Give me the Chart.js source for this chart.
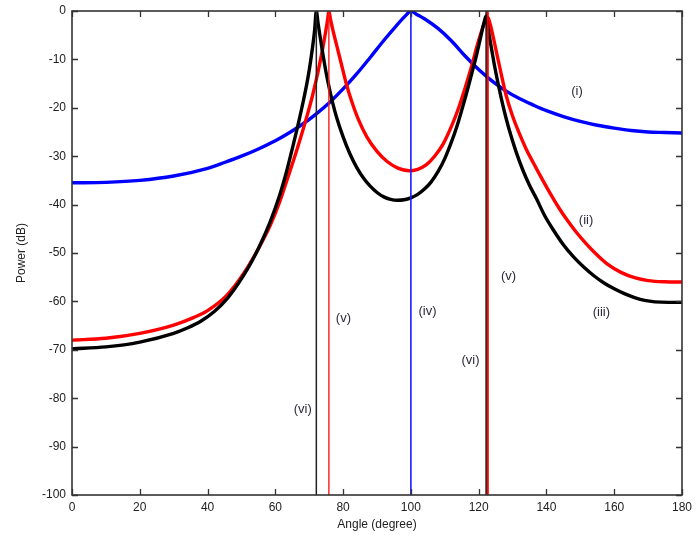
<!DOCTYPE html>
<html>
<head>
<meta charset="utf-8">
<script src="https://cdn.jsdelivr.net/npm/chart.js@4.4.1/dist/chart.umd.min.js"></script>
<style>
  html, body { margin: 0; padding: 0; background: #fff; }
  #wrap { width: 697px; height: 541px; }
</style>
</head>
<body>
<div id="wrap"><canvas id="powerChart" width="697" height="541"></canvas></div>
<script>
// (i) blue spectrum
const blueAngle = [0,10,20,30,40,45,50,55,60,64,68,72,76,80,84,88,92,96,98.5,100,101.5,104,108,112,116,120,124,128,132,136,140,145,150,155,160,165,170,175,180];
const bluePower = [-35.5,-35.4,-35,-34.1,-32.5,-31.3,-30,-28.5,-26.8,-25.2,-23.4,-21.3,-18.9,-16.1,-13,-9.6,-6.1,-2.8,-0.9,0,-0.6,-1.6,-3.6,-6.2,-9.3,-12.1,-14.5,-16.5,-18.1,-19.4,-20.6,-21.8,-22.8,-23.6,-24.2,-24.7,-25,-25.1,-25.2];

// (ii) red spectrum
const redAngle = [0,10,20,30,36,40,45.6,50.4,55.4,58.5,61.3,63.5,65.5,67.5,69.5,71,72.5,73.8,74.8,75.4,75.8,76.3,77,78,79.5,81,82.5,84.5,87,90,93,96,99.5,102,104.5,107,109.5,112,114,116,118,119.5,120.7,121.8,122.7,123.5,124.3,125.1,126.5,128.1,130,132,134,136,138,140.8,143.8,146,148.7,151.5,154.5,158,162,166,170,175,180];
const redPower = [-68,-67.6,-66.6,-64.9,-63.3,-61.9,-58.8,-54.5,-48.6,-44.3,-39.4,-34.8,-30.6,-26.1,-21.3,-17.4,-12.9,-8.4,-4.5,-1.9,0,-1.8,-4,-6.8,-11,-15.2,-18.6,-22.4,-26,-29,-31.1,-32.4,-33,-32.7,-31.8,-30,-27.5,-23.8,-20.2,-15.9,-11.2,-7.3,-4.5,-2.3,-1.3,-3,-5.4,-8,-12.5,-17.4,-21.7,-25.3,-28.5,-31.2,-33.8,-37.3,-40.8,-43.1,-45.6,-47.9,-50.1,-52.3,-54,-55.1,-55.7,-55.95,-56];

// (iii) black spectrum
const blackAngle = [0,10,20,30,34,38,42,45.6,48,50.4,53,55.4,58.5,61.3,63.3,65.2,66.8,68.2,69.3,70.1,71,71.6,72.1,72.6,73.1,74,75,76,77,78,80,82,84,86,88,90,92,94,96,98,100,102,104,106,108,110,112,113.5,115,116.5,118,119.3,120.3,121.2,121.8,122.2,122.7,123.3,124,124.6,125.5,126.5,127.5,129,131,133,135,137,139.5,142,145,148,151,154,157,160,163,166,169,172,176,180];
const blackPower = [-69.8,-69.4,-68.4,-66.6,-65.5,-64.1,-62.1,-59.6,-57.4,-54.9,-51.8,-48.5,-43.5,-38,-33.2,-27.9,-23.2,-18.8,-15,-11.8,-7.4,-3.9,0,-2.5,-4.8,-8.8,-12.8,-16.2,-19.2,-21.8,-26,-29.5,-32.3,-34.5,-36.2,-37.5,-38.4,-38.9,-39.1,-39,-38.6,-37.9,-36.8,-35.3,-33.2,-30.5,-27,-24,-20.5,-16.8,-12.8,-9.3,-6.3,-3.5,-1.8,-1,-3.2,-5.8,-8.6,-11,-14.2,-17.5,-20.5,-24.5,-29,-32.8,-36,-38.7,-42.3,-45.2,-48.3,-50.8,-52.9,-54.7,-56.2,-57.4,-58.4,-59.2,-59.8,-60.1,-60.2,-60.2];

// (iv)-(vi) direction markers
const markerAngle = [72.1, 75.8, 100, 122.2, 122.7];
const markerColor = ['#222222', '#ff1a1a', '#1a1aff', '#111111', '#ff0000'];
const markerWidth = [1.5, 1.4, 1.6, 1.5, 2];

// curve captions
const captionText = ['(i)', '(ii)', '(iii)', '(iv)', '(v)', '(v)', '(vi)', '(vi)'];
const captionAngle = [149, 151.7, 156.2, 104.9, 80.1, 128.8, 68.1, 117.6];
const captionPower = [-16.6, -43.3, -62.3, -62.1, -63.6, -54.9, -82.4, -72.1];

const xTicks = [0,20,40,60,80,100,120,140,160,180];
const yTicks = [0,-10,-20,-30,-40,-50,-60,-70,-80,-90,-100];

const toPts = (xs, ys) => xs.map((a, i) => ({x: a, y: ys[i]}));

function curve(label, xs, ys, color, order){
  return {label, data: toPts(xs, ys), borderColor: color, borderWidth: 3.4,
    pointRadius: 0, fill: false, cubicInterpolationMode: 'monotone', order};
}

const datasets = [
  curve('(i)', blueAngle, bluePower, '#0000ff', 3),
  curve('(ii)', redAngle, redPower, '#ff0000', 2),
  curve('(iii)', blackAngle, blackPower, '#000000', 1)
];
markerAngle.forEach((a, i) => {
  datasets.push({label: 'marker' + i, data: [{x: a, y: -100}, {x: a, y: 0}],
    borderColor: markerColor[i], borderWidth: markerWidth[i], pointRadius: 0, order: 0});
});

// boxed axes with inward tick marks, like a classic plot frame
const frameTicks = {
  id: 'frameTicks',
  afterDatasetsDraw(chart){
    const {ctx, chartArea: a, scales: {x, y}} = chart;
    ctx.save();
    ctx.strokeStyle = '#333';
    ctx.lineWidth = 1.3;
    ctx.beginPath();
    xTicks.forEach(v => {
      const px = Math.round(x.getPixelForValue(v)) + 0.5;
      ctx.moveTo(px, a.bottom); ctx.lineTo(px, a.bottom - 6);
      ctx.moveTo(px, a.top); ctx.lineTo(px, a.top + 6);
    });
    yTicks.forEach(v => {
      const py = Math.round(y.getPixelForValue(v)) + 0.5;
      ctx.moveTo(a.left, py); ctx.lineTo(a.left + 6, py);
      ctx.moveTo(a.right, py); ctx.lineTo(a.right - 6, py);
    });
    ctx.stroke();
    ctx.lineWidth = 1.6;
    ctx.strokeRect(a.left, a.top, a.right - a.left, a.bottom - a.top);
    ctx.restore();
  }
};

const captions = {
  id: 'captions',
  afterDraw(chart){
    const {ctx, scales: {x, y}} = chart;
    ctx.save();
    ctx.font = '13px "Liberation Sans", Arial, sans-serif';
    ctx.fillStyle = '#2a2a3a';
    ctx.textAlign = 'center';
    ctx.textBaseline = 'middle';
    captionText.forEach((t, i) => {
      ctx.fillText(t, x.getPixelForValue(captionAngle[i]), y.getPixelForValue(captionPower[i]));
    });
    ctx.restore();
  }
};

const tickFont = {family: '"Liberation Sans", Arial, sans-serif', size: 12};

new Chart(document.getElementById('powerChart').getContext('2d'), {
  type: 'line',
  data: {datasets},
  options: {
    responsive: false,
    animation: false,
    devicePixelRatio: 1,
    layout: {padding: {top: 11, right: 15, left: 0, bottom: 0}},
    plugins: {legend: {display: false}, tooltip: {enabled: false}},
    scales: {
      x: {
        type: 'linear', min: 0, max: 180,
        afterFit: s => { s.height = 46; },
        afterBuildTicks: s => { s.ticks = xTicks.map(v => ({value: v})); },
        grid: {display: false, drawTicks: false}, border: {display: false},
        ticks: {font: tickFont, color: '#222', padding: 5, maxRotation: 0},
        title: {display: true, text: 'Angle (degree)', font: tickFont, color: '#222', padding: {top: 0, bottom: 9}}
      },
      y: {
        type: 'linear', min: -100, max: 0,
        afterFit: s => { s.width = 72; s.paddingTop = 0; s.paddingBottom = 0; },
        afterBuildTicks: s => { s.ticks = yTicks.map(v => ({value: v})); },
        grid: {display: false, drawTicks: false}, border: {display: false},
        ticks: {font: tickFont, color: '#222', padding: 6},
        title: {display: true, text: 'Power (dB)', font: tickFont, color: '#222', padding: {top: 14, bottom: 0}}
      }
    }
  },
  plugins: [frameTicks, captions]
});
</script>
</body>
</html>
